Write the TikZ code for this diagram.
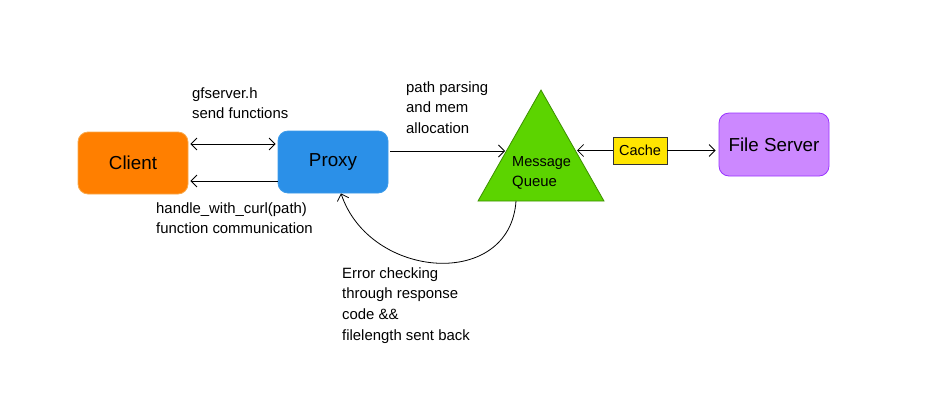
\documentclass[tikz,border=0pt]{standalone}
\usepackage{fontspec}
\setmainfont{Liberation Sans}
\usetikzlibrary{arrows.meta,shapes.geometric}
\definecolor{clientfill}{HTML}{FF7F00}
\definecolor{clientline}{HTML}{F9A94B}
\definecolor{proxyfill}{HTML}{2B90E8}
\definecolor{proxyline}{HTML}{3C9BEA}
\definecolor{queuefill}{HTML}{5CD400}
\definecolor{queueline}{HTML}{3C8F00}
\definecolor{cachefill}{HTML}{FFE500}
\definecolor{serverfill}{HTML}{CC88FF}
\definecolor{serverline}{HTML}{9933FF}
\begin{document}
\begin{tikzpicture}[
        x=1pt, y=-1pt,
        proc box/.style={rounded corners=10pt, minimum width=110pt, minimum height=62pt, inner sep=0pt, line width=0.8pt, font=\fontsize{18.8}{22}\selectfont},
        cache box/.style={draw=black!80, fill=cachefill, minimum width=54pt, minimum height=27pt, inner sep=0pt, line width=0.8pt, font=\fontsize{14.5}{17}\selectfont},
        queue shape/.style={isosceles triangle, shape border rotate=90, isosceles triangle stretches, minimum width=126pt, minimum height=111pt, inner sep=0pt, draw=queueline, fill=queuefill, line width=0.8pt},
        note/.style={anchor=north west, inner sep=0pt, align=left, font=\fontsize{14.9}{20.8}\selectfont},
        flow/.style={draw, line width=0.8pt, -{Straight Barb[length=6pt, width=12pt]}},
        both flow/.style={draw, line width=0.8pt, {Straight Barb[length=6pt, width=12pt]}-{Straight Barb[length=6pt, width=12pt]}}
    ]
    \useasboundingbox (0,0) rectangle (952,416);
	\node[proc box, fill=clientfill, draw=clientline] (client) at (133,163) {Client};
	\node[proc box, fill=proxyfill, draw=proxyline] (proxy) at (333,162) {Proxy};
	\node[queue shape, anchor=apex] (queue) at (541,89) {};
	\node[note, anchor=west] (queue_label) at (512,173) {\fontsize{14.5}{20}\selectfont Message\\Queue};
	\node[cache box] (cache) at (640,150.5) {Cache};
	\node[proc box, fill=serverfill, draw=serverline, minimum height=63pt] (server) at (774,144.5) {File Server};
	\coordinate (queue_in) at (505,151);
	\coordinate (queue_out) at (577,150.5);
	\coordinate (queue_base) at (516,201);
	\draw[both flow, shorten <=2pt, shorten >=2pt] (client.east |- 0,144) -- (proxy.west |- 0,144);
	\draw[flow, shorten >=2pt] (proxy.west |- 0,181) -- (client.east |- 0,181);
	\draw[flow, shorten <=2pt] (proxy.east |- 0,151) -- (queue_in);
	\draw[flow] (cache.west) -- (queue_out);
	\draw[flow, shorten >=3pt] (cache.east) -- (server.west |- cache.east);
	\draw[flow] (queue_base) .. controls (510,290) and (370,280) .. (proxy.south -| 341,0);
	\node[note] (send_label) at (192,87) {gfserver.h\\send functions};
	\node[note] (curl_label) at (156,202) {handle\_with\_curl(path)\\function communication};
	\node[note] (parse_label) at (406,81) {path parsing\\and mem\\allocation};
	\node[note] (error_label) at (342,267) {Error checking\\through response\\code \&\&\\filelength sent back};
    \end{tikzpicture}
\end{document}
